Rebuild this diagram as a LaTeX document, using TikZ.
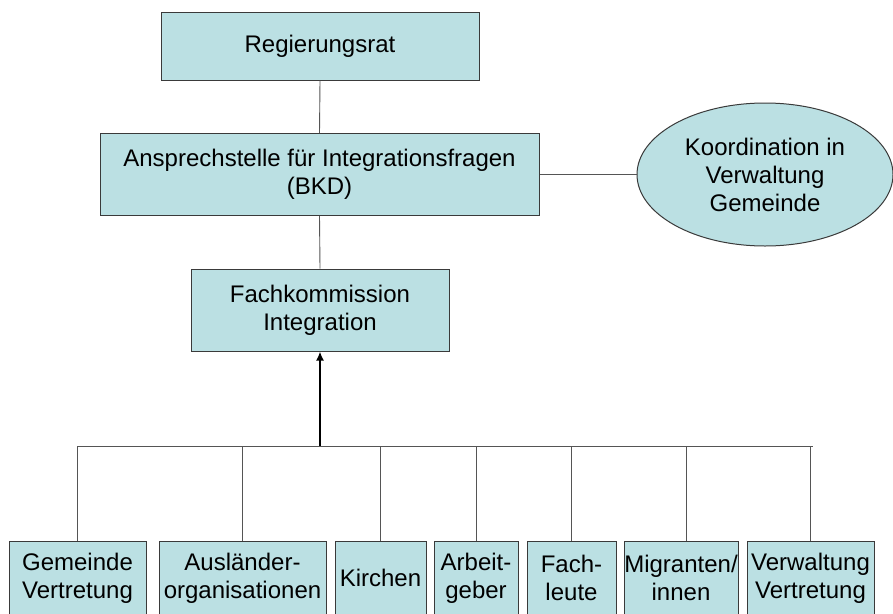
\documentclass[tikz,border=0pt]{standalone}
\usepackage{fontspec}
\setmainfont{Liberation Sans}
\usetikzlibrary{shapes.geometric,arrows.meta}
\definecolor{boxfill}{HTML}{BBE0E3}
\definecolor{boxline}{HTML}{3A3A3A}
\definecolor{connc}{HTML}{555555}
\begin{document}
\begin{tikzpicture}[x=1pt,y=-1pt,
  box/.style={draw=boxline,fill=boxfill,line width=1pt,inner sep=0pt,align=center,
    font=\fontsize{24pt}{28pt}\selectfont},
  conn/.style={draw=connc,line width=0.9pt}]
\useasboundingbox (0,0) rectangle (893,613);
\node[box,minimum width=318pt,minimum height=68pt] (rr) at (320,46) {Regierungsrat};
\node[box,minimum width=439pt,minimum height=82pt] (asp) at (319.5,174.5) {Ansprechstelle für Integrationsfragen\\(BKD)};
\node[box,ellipse,minimum width=256pt,minimum height=143pt] (ell) at (765,174.5) {Koordination in\\Verwaltung\\Gemeinde};
\node[box,minimum width=258pt,minimum height=82pt] (fk) at (320,310) {Fachkommission\\Integration};
\node[box,minimum width=137pt,minimum height=74pt] (b1) at (77.5,578) {Gemeinde\\Vertretung};
\node[box,minimum width=167pt,minimum height=74pt] (b2) at (242.5,578) {Ausländer-\\organisationen};
\node[box,minimum width=91pt,minimum height=74pt] (b3) at (380.5,578) {Kirchen};
\node[box,minimum width=84pt,minimum height=74pt] (b4) at (476,578) {Arbeit-\\geber};
\node[box,minimum width=89pt,minimum height=74pt] (b5) at (571.5,578) {Fach-\\leute};
\node[box,minimum width=114pt,minimum height=74pt] (b6) at (681,578) {Migranten/\\innen};
\node[box,minimum width=127pt,minimum height=74pt] (b7) at (810.5,578) {Verwaltung\\Vertretung};
\coordinate (bus) at (320,446);
\coordinate (busL) at (78,446);
\coordinate (busR) at (813,446);
\coordinate (d6) at (686,541);
\draw[conn] (rr.south) -- (asp.north);
\draw[conn] (asp.south) -- (fk.north);
\draw[conn] (asp.east) -- (ell.west);
\draw[conn] (busL) -- (busR);
\draw[conn] (b1.north) -- (b1.north |- bus);
\draw[conn] (b2.north) -- (b2.north |- bus);
\draw[conn] (b3.north) -- (b3.north |- bus);
\draw[conn] (b4.north) -- (b4.north |- bus);
\draw[conn] (b5.north) -- (b5.north |- bus);
\draw[conn] (d6) -- (d6 |- bus);
\draw[conn] (b7.north) -- (b7.north |- bus);
\draw[black,line width=2pt,-{Latex[length=9pt,width=8pt]}] (bus) -- (fk.south);
\end{tikzpicture}
\end{document}
